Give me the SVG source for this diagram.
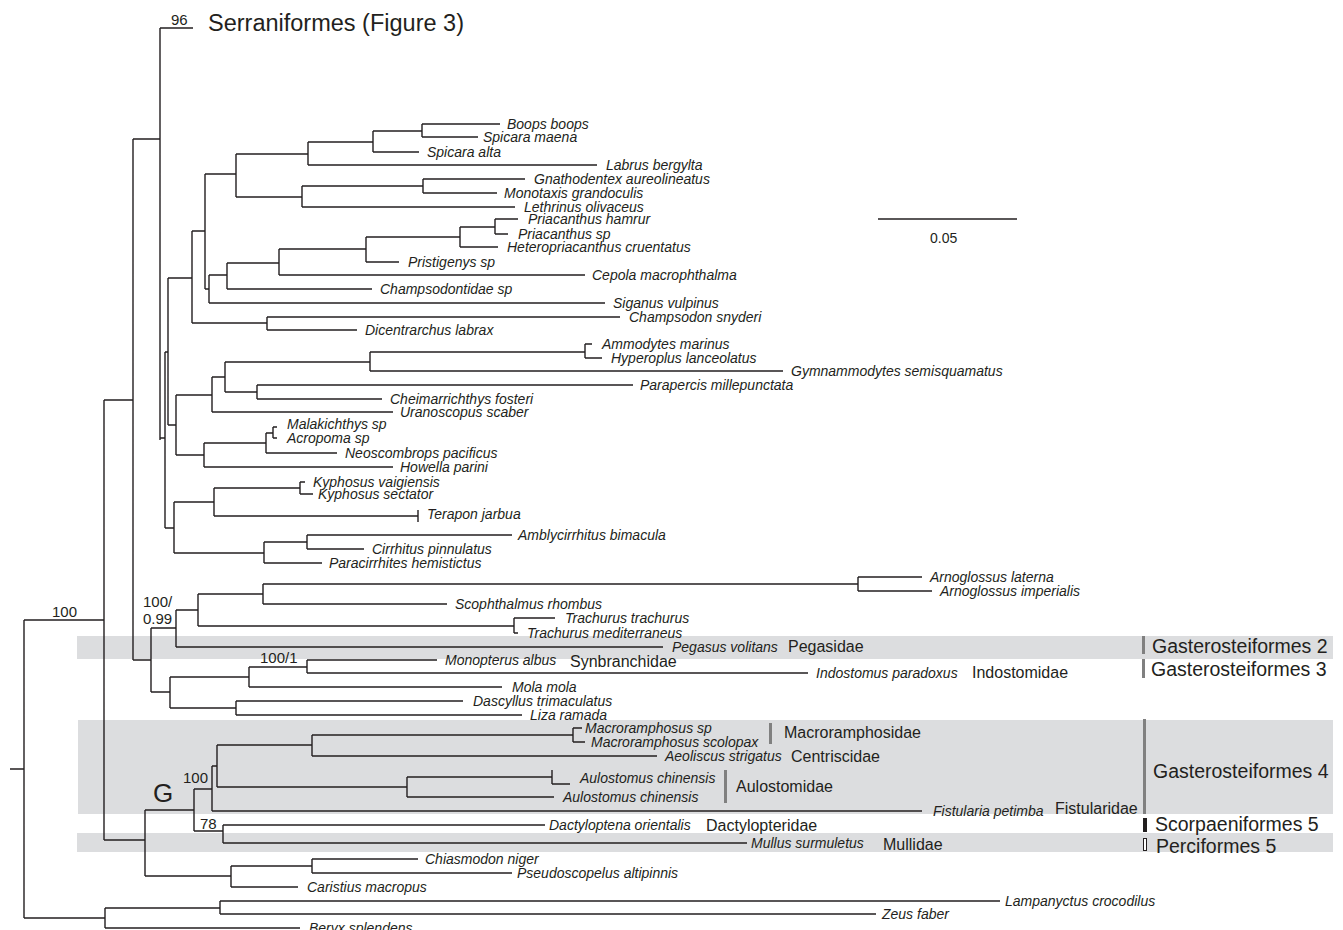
<svg xmlns="http://www.w3.org/2000/svg" width="1343" height="930" viewBox="0 0 1343 930">
<style>
.sp{font-family:"Liberation Sans",Arial,sans-serif;font-style:italic;font-size:14px;fill:#231f20}
.fam{font-family:"Liberation Sans",Arial,sans-serif;font-size:16px;fill:#231f20}
.grp{font-family:"Liberation Sans",Arial,sans-serif;font-size:19.5px;fill:#231f20}
.sup{font-family:"Liberation Sans",Arial,sans-serif;font-size:15px;fill:#231f20}
.band{fill:#dcdddf}
.bar{fill:#808080}
.tree{fill:none;stroke:#231f20;stroke-width:1.4}
</style>
<rect width="1343" height="930" fill="#fff"/>
<g id="bands">
<rect class="band" x="77" y="636" width="1256" height="23"/>
<rect class="band" x="78" y="720" width="1255" height="94"/>
<rect class="band" x="77" y="833" width="1256" height="19"/>
</g>
<g id="connectors">
<path class="tree" d="M10 769H24 M24 620V918 M24 620H104 M24 918H105
M104 400V840 M104 400H133 M104 840H145
M133 139V660 M133 139H160 M133 660H151
M160 28V440 M160 28H193 M160 438H165
M165 352V528 M165 352H168 M165 528H174
M168 278V425 M168 278H192 M168 425H176
M192 231V323 M192 231H205 M192 323H267
M205 174V289 M205 174H236 M205 289H209
M236 154V197 M236 154H308 M236 197H302
M308 142V165 M308 142H373 M308 165H597
M373 131V152 M373 131H422 M373 152H419
M422 124V137 M422 124H500 M422 137H478
M302 186V207 M302 186H423 M302 207H515
M423 179V193 M423 179H525 M423 193H497
M209 275V303 M209 275H227 M209 303H605
M227 263V289 M227 263H279 M227 289H372
M279 249V275 M279 249H366 M279 275H585
M366 237V262 M366 237H460 M366 262H399
M460 227V247 M460 227H495 M460 247H498
M495 219V234 M495 219H518 M495 234H508
M267 317V330 M267 317H620 M267 330H357
M176 395V455 M176 395H212 M176 455H204
M212 377V412 M212 377H225 M212 412H393
M225 362V392 M225 362H370 M225 392H257
M370 352V371 M370 352H585 M370 371H783
M585 344V358 M585 344H592 M585 358H602
M257 385V399 M257 385H633 M257 399H382
M204 443V467 M204 443H266 M204 467H393
M266 433V453 M266 433H273 M266 453H337
M273 427V438 M273 427H277 M273 438H277
M174 502V553 M174 502H214 M174 553H264
M214 488V516 M214 488H300 M214 516H418
M300 482V494 M300 482H305 M300 494H313
M418 510V522
M264 542V563 M264 542H307 M264 563H322
M307 535V549 M307 535H512 M307 549H364
M151 628V692 M151 628H176 M151 692H170
M176 610V647 M176 610H198 M176 647H663
M198 594V626 M198 594H263 M198 626H514
M263 584V604 M263 584H858 M263 604H447
M858 577V591 M858 577H922 M858 591H932
M514 618V633 M514 618H555 M514 633H518
M170 677V708 M170 677H249 M170 708H236
M249 667V687 M249 667H307 M249 687H502
M307 660V673 M307 660H437 M307 673H808
M236 701V715 M236 701H463 M236 715H522
M145 810V876 M145 810H194 M145 876H231
M194 789V831 M194 789H212 M194 831H223
M212 766V811 M212 766H217 M212 811H922
M217 745V787 M217 745H312 M217 787H407
M312 735V756 M312 735H573 M312 756H657
M573 728V742 M573 728H582 M573 742H585
M407 777V797 M407 777H552 M407 797H554
M552 770V784 M552 784H570
M223 825V843 M223 825H545 M223 843H747
M231 866V887 M231 866H312 M231 887H298
M312 859V873 M312 859H418 M312 873H512
M105 908V928 M105 908H220 M105 928H300
M220 901V914 M220 901H1000 M220 914H876"/>
<path class="tree" d="M878 219H1017"/>
</g>
<g id="scale"><text class="sup" x="930" y="243" style="font-size:14px">0.05</text></g>
<g id="support">
<text class="sup" x="171" y="25">96</text>
<text class="sup" x="52" y="617">100</text>
<text class="sup" x="143" y="607">100/</text>
<text class="sup" x="143" y="624">0.99</text>
<text class="sup" x="260" y="663">100/1</text>
<text class="sup" x="183" y="783">100</text>
<text class="sup" x="200" y="829">78</text>
<text class="sup" x="153" y="802" style="font-size:26px">G</text>
</g>
<g id="serraniformes"><text class="grp" x="208" y="31" style="font-size:23.5px">Serraniformes (Figure 3)</text></g>
<g id="taxa">
<g id="t1"><text class="sp" x="507" y="129">Boops boops</text></g>
<g id="t2"><text class="sp" x="483" y="142">Spicara maena</text></g>
<g id="t3"><text class="sp" x="427" y="157">Spicara alta</text></g>
<g id="t4"><text class="sp" x="606" y="170">Labrus bergylta</text></g>
<g id="t5"><text class="sp" x="534" y="184">Gnathodentex aureolineatus</text></g>
<g id="t6"><text class="sp" x="504" y="198">Monotaxis grandoculis</text></g>
<g id="t7"><text class="sp" x="524" y="212">Lethrinus olivaceus</text></g>
<g id="t8"><text class="sp" x="528" y="224">Priacanthus hamrur</text></g>
<g id="t9"><text class="sp" x="518" y="239">Priacanthus sp</text></g>
<g id="t10"><text class="sp" x="507" y="252">Heteropriacanthus cruentatus</text></g>
<g id="t11"><text class="sp" x="408" y="267">Pristigenys sp</text></g>
<g id="t12"><text class="sp" x="592" y="280">Cepola macrophthalma</text></g>
<g id="t13"><text class="sp" x="380" y="294">Champsodontidae sp</text></g>
<g id="t14"><text class="sp" x="613" y="308">Siganus vulpinus</text></g>
<g id="t15"><text class="sp" x="629" y="322">Champsodon snyderi</text></g>
<g id="t16"><text class="sp" x="365" y="335">Dicentrarchus labrax</text></g>
<g id="t17"><text class="sp" x="602" y="349">Ammodytes marinus</text></g>
<g id="t18"><text class="sp" x="611" y="363">Hyperoplus lanceolatus</text></g>
<g id="t19"><text class="sp" x="791" y="376">Gymnammodytes semisquamatus</text></g>
<g id="t20"><text class="sp" x="640" y="390">Parapercis millepunctata</text></g>
<g id="t21"><text class="sp" x="390" y="404">Cheimarrichthys fosteri</text></g>
<g id="t22"><text class="sp" x="400" y="417">Uranoscopus scaber</text></g>
<g id="t23"><text class="sp" x="287" y="429">Malakichthys sp</text></g>
<g id="t24"><text class="sp" x="287" y="443">Acropoma sp</text></g>
<g id="t25"><text class="sp" x="345" y="458">Neoscombrops pacificus</text></g>
<g id="t26"><text class="sp" x="400" y="472">Howella parini</text></g>
<g id="t27"><text class="sp" x="313" y="487">Kyphosus vaigiensis</text></g>
<g id="t28"><text class="sp" x="318" y="499">Kyphosus sectator</text></g>
<g id="t29"><text class="sp" x="427" y="519">Terapon jarbua</text></g>
<g id="t30"><text class="sp" x="518" y="540">Amblycirrhitus bimacula</text></g>
<g id="t31"><text class="sp" x="372" y="554">Cirrhitus pinnulatus</text></g>
<g id="t32"><text class="sp" x="329" y="568">Paracirrhites hemistictus</text></g>
<g id="t33"><text class="sp" x="930" y="582">Arnoglossus laterna</text></g>
<g id="t34"><text class="sp" x="940" y="596">Arnoglossus imperialis</text></g>
<g id="t35"><text class="sp" x="455" y="609">Scophthalmus rhombus</text></g>
<g id="t36"><text class="sp" x="565" y="623">Trachurus trachurus</text></g>
<g id="t37"><text class="sp" x="527" y="638">Trachurus mediterraneus</text></g>
<g id="t38"><text class="sp" x="672" y="652">Pegasus volitans</text><text class="fam" x="788" y="652">Pegasidae</text></g>
<g id="t39"><text class="sp" x="445" y="665">Monopterus albus</text><text class="fam" x="570" y="667">Synbranchidae</text></g>
<g id="t40"><text class="sp" x="816" y="678">Indostomus paradoxus</text><text class="fam" x="972" y="678">Indostomidae</text></g>
<g id="t41"><text class="sp" x="512" y="692">Mola mola</text></g>
<g id="t42"><text class="sp" x="473" y="706">Dascyllus trimaculatus</text></g>
<g id="t43"><text class="sp" x="530" y="720">Liza ramada</text></g>
<g id="t44"><text class="sp" x="585" y="733">Macroramphosus sp</text></g>
<g id="t45"><text class="sp" x="591" y="747">Macroramphosus scolopax</text></g>
<g id="macroramphosidae"><rect class="bar" x="769" y="723" width="3" height="21"/><text class="fam" x="784" y="738">Macroramphosidae</text></g>
<g id="t46"><text class="sp" x="665" y="761">Aeoliscus strigatus</text><text class="fam" x="791" y="762">Centriscidae</text></g>
<g id="t47"><text class="sp" x="580" y="783">Aulostomus chinensis</text></g>
<g id="t48"><text class="sp" x="563" y="802">Aulostomus chinensis</text></g>
<g id="aulostomidae"><rect class="bar" x="724" y="770" width="3" height="33"/><text class="fam" x="736" y="792">Aulostomidae</text></g>
<g id="t49"><text class="sp" x="933" y="816">Fistularia petimba</text><text class="fam" x="1055" y="814">Fistularidae</text></g>
<g id="t50"><text class="sp" x="549" y="830">Dactyloptena orientalis</text><text class="fam" x="706" y="831">Dactylopteridae</text></g>
<g id="t51"><text class="sp" x="751" y="848">Mullus surmuletus</text><text class="fam" x="883" y="850">Mullidae</text></g>
<g id="t52"><text class="sp" x="425" y="864">Chiasmodon niger</text></g>
<g id="t53"><text class="sp" x="517" y="878">Pseudoscopelus altipinnis</text></g>
<g id="t54"><text class="sp" x="307" y="892">Caristius macropus</text></g>
<g id="t55"><text class="sp" x="1005" y="906">Lampanyctus crocodilus</text></g>
<g id="t56"><text class="sp" x="882" y="919">Zeus faber</text></g>
<g id="t57"><text class="sp" x="309" y="933">Beryx splendens</text></g>
</g>
<g id="groups">
<g id="g2"><rect class="bar" x="1142" y="636" width="3" height="18"/><text class="grp" x="1152" y="653">Gasterosteiformes 2</text></g>
<g id="g3"><rect class="bar" x="1142" y="659" width="3" height="19"/><text class="grp" x="1151" y="676">Gasterosteiformes 3</text></g>
<g id="g4"><rect class="bar" x="1143" y="719" width="3" height="95"/><text class="grp" x="1153" y="778">Gasterosteiformes 4</text></g>
<g id="s5"><rect x="1143" y="818" width="4" height="14" fill="#231f20"/><text class="grp" x="1155" y="831">Scorpaeniformes 5</text></g>
<g id="p5"><rect x="1143.5" y="838.5" width="3" height="12" fill="#fff" stroke="#231f20" stroke-width="1"/><text class="grp" x="1156" y="853">Perciformes 5</text></g>
</g>
</svg>
